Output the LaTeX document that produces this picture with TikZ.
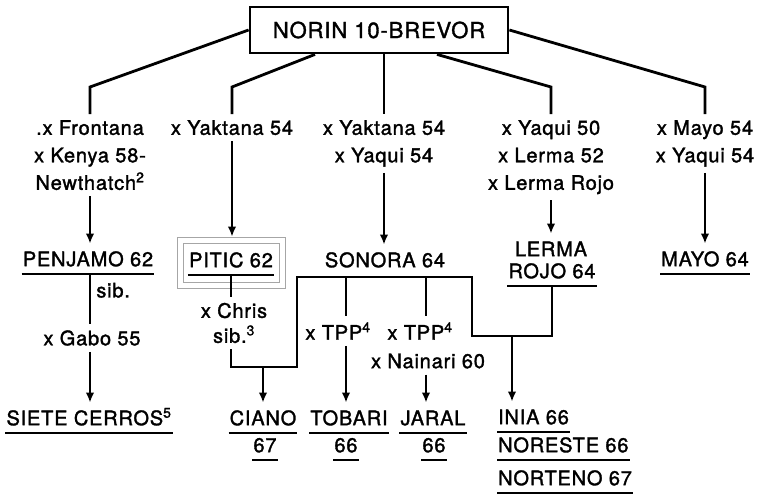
\documentclass[tikz,border=0pt]{standalone}
\usepackage{fontspec}
\setmainfont{TeX Gyre Heros}[LetterSpace=4,FakeBold=1.6]
\usetikzlibrary{arrows.meta}

\begin{document}
\begin{tikzpicture}[x=1pt,y=-1pt,
  line/.style={line width=2.8pt},
  arr/.style={line width=2.8pt,-{Latex[length=10pt,width=8.5pt]}},
  uline/.style={line width=1.9pt},
  cross/.style={font=\fontsize{20}{27.5}\selectfont,align=center,inner sep=6pt},
  var/.style={font=\fontsize{20}{24}\selectfont,inner xsep=1pt,inner ysep=8pt,text height=14.4pt,text depth=0pt},
  dbox/.style={draw=gray!70,line width=0.9pt,double,double distance=5pt,minimum width=102pt,minimum height=45pt}]
\useasboundingbox (0,0) rectangle (760,496);
% Parameters
\def\yk{87}; % height of the corners under the top box

% Parent
\node[draw,line width=2.8pt,font=\fontsize{22}{26}\selectfont,minimum width=258pt,minimum height=46pt] (top) at (379,30) {NORIN 10-BREVOR};

% Crosses
\node[cross,anchor=north] (frontana) at (90,114) {.x Frontana\\x Kenya 58-\\Newthatch\textsuperscript{2}};
\node[cross,anchor=north] (yaktana) at (232,114) {x Yaktana 54};
\node[cross,anchor=north] (yakyaq) at (384,114) {x Yaktana 54\\x Yaqui 54};
\node[cross,anchor=north] (yaqlerma) at (551,114) {x Yaqui 50\\x Lerma 52\\x Lerma Rojo};
\node[cross,anchor=north] (mayoyaq) at (705,114) {x Mayo 54\\x Yaqui 54};

% First varieties
\node[var] (penjamo) at (88,259) {PENJAMO 62};
\node[var] (pitic) at (231,260) {PITIC 62};
\node[dbox] (pitbox) at (231.5,263) {};
\node[var] (sonora) at (385,260) {SONORA 64};
\node[var] (lerma) at (551,249) {LERMA};
\node[var] (rojo) at (552,271) {ROJO 64};
\node[var] (mayo) at (705,259) {MAYO 64};

% Second crosses
\node[cross] (gabo) at (92,338) {x Gabo 55};
\node[cross,font=\fontsize{20}{25}\selectfont] (chris) at (234,323) {x Chris\\sib.\textsuperscript{3}};
\node[cross] (tppa) at (338,331) {x TPP\textsuperscript{4}};
\node[cross] (tppb) at (420,331) {x TPP\textsuperscript{4}};
\node[cross] (nainari) at (428,361) {x Nainari 60};

% Second varieties
\node[var] (siete) at (89,418) {SIETE CERROS\textsuperscript{5}};
\node[var] (ciano) at (263,418) {CIANO};
\node[var] (cianoyr) at (265,445) {67};
\node[var] (tobari) at (349,418) {TOBARI};
\node[var] (tobariyr) at (346,445) {66};
\node[var] (jaral) at (433,418) {JARAL};
\node[var] (jaralyr) at (434,445) {66};
\node[var,anchor=west] (inia) at (497,417) {INIA 66};
\node[var,anchor=west] (noreste) at (497,445) {NORESTE 66};
\node[var,anchor=west] (norteno) at (497,478) {NORTENO 67};

% Joints
\coordinate (cj) at (263,367);
\coordinate (sw) at (297,277);
\coordinate (se) at (472,277);
\coordinate (ij) at (512,336);
\coordinate (ba) at (346,277);
\coordinate (bb) at (426,277);

% Branches from the top box
\draw[line] (top.west) -- (frontana.north |- 0,\yk) -- (frontana.north);
\draw[line] ([xshift=-64pt]top.south) -- (yaktana.north |- 0,\yk) -- (yaktana.north);
\draw[line] (top.south -| yakyaq.north) -- (yakyaq.north);
\draw[line] ([xshift=58pt]top.south) -- (yaqlerma.north |- 0,\yk) -- (yaqlerma.north);
\draw[line] (top.east) -- (mayoyaq.north |- 0,\yk) -- (mayoyaq.north);

% Arrows to the first varieties
\draw[arr] (frontana.south) -- (frontana.south |- penjamo.north);
\draw[arr,shorten >=3.4pt] (yaktana.south) -- (yaktana.south |- pitbox.north);
\draw[arr] (yakyaq.south) -- (yakyaq.south |- sonora.north);
\draw[arr] (yaqlerma.south) -- (yaqlerma.south |- lerma.north);
\draw[arr] (mayoyaq.south) -- (mayoyaq.south |- mayo.north);

% Second generation
\draw[line] (frontana.south |- penjamo.south) -- node[cross,right,pos=0.32,inner sep=5pt] (sib) {sib.} (frontana.south |- gabo.north);
\draw[arr] (frontana.south |- gabo.south) -- (frontana.south |- siete.north);
\draw[line] (pitic.south) -- (pitic.south |- chris.north);
\draw[line] (pitic.south |- chris.south) |- (cj) -| (sw) -- (se) |- (ij) -| (rojo.south);
\draw[arr] (cj) -- (cj |- ciano.north);
\draw[line] (ba) -- (ba |- tppa.north);
\draw[arr] (ba |- tppa.south) -- (ba |- tobari.north);
\draw[line] (bb) -- (bb |- tppb.north);
\draw[arr] (bb |- nainari.south) -- (bb |- jaral.north);
\draw[arr] (ij) -- (ij |- inia.north);

% Underlines
\foreach \n in {penjamo,pitic,rojo,mayo,siete,ciano,cianoyr,tobari,tobariyr,jaral,jaralyr,inia,noreste,norteno}
  \draw[uline] (\n.south west) -- (\n.south east);
\end{tikzpicture}
\end{document}
